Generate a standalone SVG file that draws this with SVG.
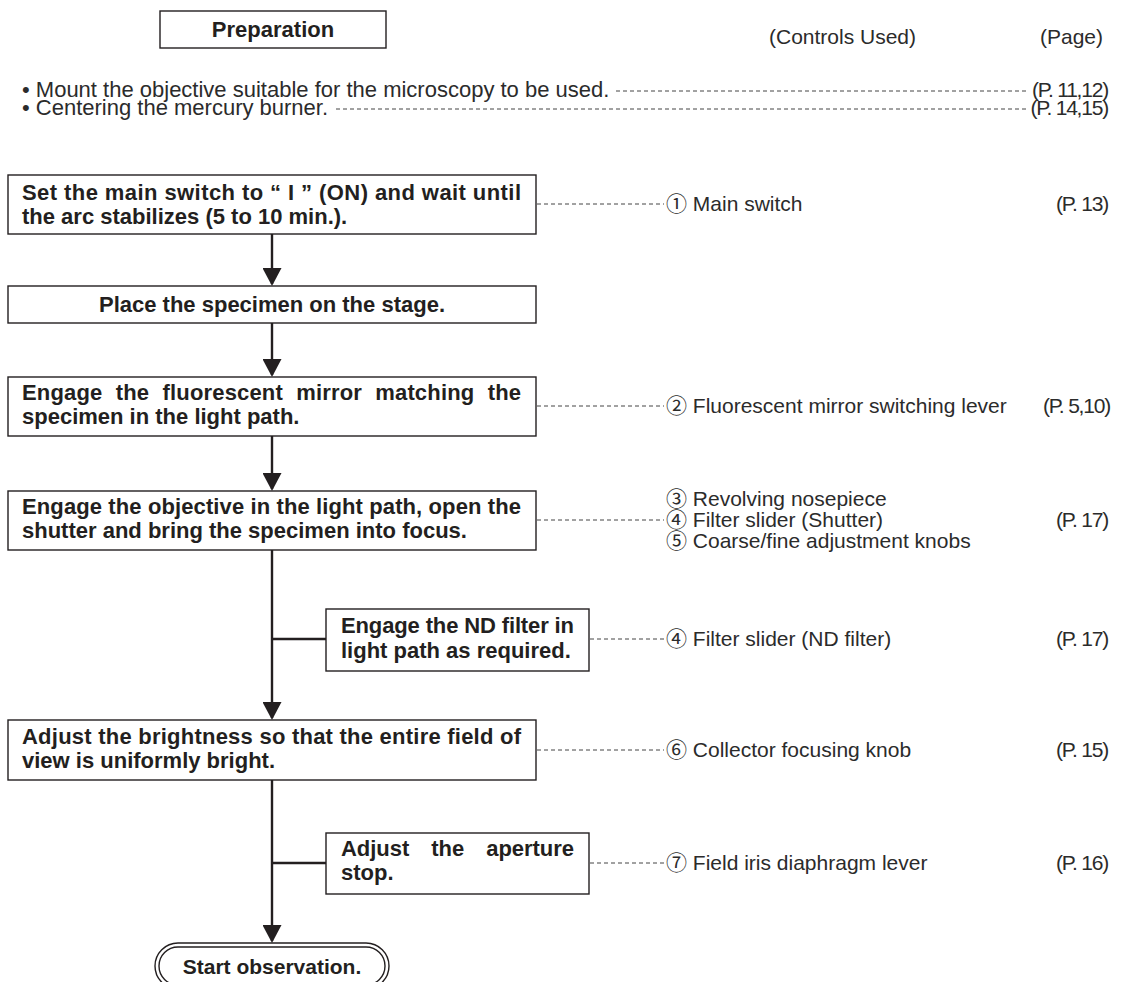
<svg xmlns="http://www.w3.org/2000/svg" width="1123" height="982" viewBox="0 0 1123 982">
<defs>
<style>
.box{fill:#fff;stroke:#231f20;stroke-width:1.4}
.bt{font-family:"Liberation Sans",Arial,sans-serif;font-weight:bold;font-size:22px;fill:#231f20}
.lt{font-family:"Liberation Sans","Noto Sans CJK JP",sans-serif;font-size:21px;fill:#2b2b2b}
.bl{font-family:"Liberation Sans",Arial,sans-serif;font-size:22px;fill:#2b2b2b}
.pg{font-family:"Liberation Sans",Arial,sans-serif;font-size:21px;fill:#2b2b2b;text-anchor:end;letter-spacing:-1.2px}
.flow{stroke:#231f20;stroke-width:2.4;fill:none}
.dash{stroke:#444;stroke-width:1;stroke-dasharray:4 3;fill:none}
.mid{text-anchor:middle}
</style>
<marker id="ah" markerUnits="userSpaceOnUse" markerWidth="19" markerHeight="19" viewBox="0 0 18 19" refX="16" refY="9.5" orient="auto">
<path d="M0,0 L18,9.5 L0,19 Z" fill="#231f20"/>
</marker>
</defs>
<rect width="1123" height="982" fill="#fff"/>

<g id="preparation">
<rect class="box" x="160" y="11" width="226" height="37"/>
<text class="bt mid" x="273" y="37">Preparation</text>
</g>

<g id="headers">
<text class="lt" x="769" y="44">(Controls Used)</text>
<text class="lt" x="1040" y="44">(Page)</text>
</g>

<g id="prep-items">
<text class="bl" x="22" y="97">• Mount the objective suitable for the microscopy to be used.</text>
<text class="pg" x="1108" y="97">(P. 11,12)</text>
<text class="bl" x="22" y="115">• Centering the mercury burner.</text>
<text class="pg" x="1108" y="115">(P. 14,15)</text>
</g>

<g id="connectors">
<line class="dash" x1="616" y1="91" x2="1026" y2="91"/>
<line class="dash" x1="336" y1="109" x2="1026" y2="109"/>
<line class="flow" x1="272" y1="234" x2="272" y2="284" marker-end="url(#ah)"/>
<line class="flow" x1="272" y1="323" x2="272" y2="375" marker-end="url(#ah)"/>
<line class="flow" x1="272" y1="436" x2="272" y2="489" marker-end="url(#ah)"/>
<line class="flow" x1="272" y1="550" x2="272" y2="718" marker-end="url(#ah)"/>
<line class="flow" x1="272" y1="639" x2="326" y2="639"/>
<line class="flow" x1="272" y1="780" x2="272" y2="941" marker-end="url(#ah)"/>
<line class="flow" x1="272" y1="863" x2="326" y2="863"/>
<line class="dash" x1="537" y1="204" x2="664" y2="204"/>
<line class="dash" x1="537" y1="406" x2="664" y2="406"/>
<line class="dash" x1="537" y1="520" x2="664" y2="520"/>
<line class="dash" x1="590" y1="639" x2="664" y2="639"/>
<line class="dash" x1="537" y1="750" x2="664" y2="750"/>
<line class="dash" x1="590" y1="863" x2="664" y2="863"/>
</g>

<g id="n1">
<rect class="box" x="8" y="175" width="528" height="59"/>
<text class="bt" x="22" y="200" textLength="499" lengthAdjust="spacing">Set the main switch to “ I ” (ON) and wait until</text>
<text class="bt" x="22" y="224">the arc stabilizes (5 to 10 min.).</text>
</g>

<g id="n2">
<rect class="box" x="8" y="286" width="528" height="37"/>
<text class="bt mid" x="272" y="312">Place the specimen on the stage.</text>
</g>

<g id="n3">
<rect class="box" x="8" y="377" width="528" height="59"/>
<text class="bt" x="22" y="400" word-spacing="7" textLength="499" lengthAdjust="spacing">Engage the fluorescent mirror matching the</text>
<text class="bt" x="22" y="424">specimen in the light path.</text>
</g>

<g id="n4">
<rect class="box" x="8" y="491" width="528" height="59"/>
<text class="bt" x="22" y="514" textLength="499" lengthAdjust="spacing">Engage the objective in the light path, open the</text>
<text class="bt" x="22" y="538">shutter and bring the specimen into focus.</text>
</g>

<g id="n4b">
<rect class="box" x="326" y="609" width="263" height="62"/>
<text class="bt" x="341" y="633" textLength="233" lengthAdjust="spacing">Engage the ND filter in</text>
<text class="bt" x="341" y="658">light path as required.</text>
</g>

<g id="n5">
<rect class="box" x="8" y="720" width="528" height="60"/>
<text class="bt" x="22" y="744" textLength="499" lengthAdjust="spacing">Adjust the brightness so that the entire field of</text>
<text class="bt" x="22" y="768">view is uniformly bright.</text>
</g>

<g id="n5b">
<rect class="box" x="326" y="833" width="263" height="61"/>
<text class="bt" x="341" y="856" word-spacing="16" textLength="233" lengthAdjust="spacing">Adjust the aperture</text>
<text class="bt" x="341" y="880">stop.</text>
</g>

<g id="n6">
<rect class="box" x="155" y="943" width="234" height="46" rx="23"/>
<rect class="box" x="159" y="947" width="226" height="38" rx="19"/>
<text class="bt mid" x="272" y="974" style="font-size:21px">Start observation.</text>
</g>

<g id="controls">
<text class="lt" x="666" y="211">① Main switch</text>
<text class="pg" x="1108" y="211">(P. 13)</text>
<text class="lt" x="666" y="413">② Fluorescent mirror switching lever</text>
<text class="pg" x="1110" y="413">(P. 5,10)</text>
<text class="lt" x="666" y="506">③ Revolving nosepiece</text>
<text class="lt" x="666" y="527">④ Filter slider (Shutter)</text>
<text class="pg" x="1108" y="527">(P. 17)</text>
<text class="lt" x="666" y="548">⑤ Coarse/fine adjustment knobs</text>
<text class="lt" x="666" y="646">④ Filter slider (ND filter)</text>
<text class="pg" x="1108" y="646">(P. 17)</text>
<text class="lt" x="666" y="757">⑥ Collector focusing knob</text>
<text class="pg" x="1108" y="757">(P. 15)</text>
<text class="lt" x="666" y="870">⑦ Field iris diaphragm lever</text>
<text class="pg" x="1108" y="870">(P. 16)</text>
</g>
</svg>
